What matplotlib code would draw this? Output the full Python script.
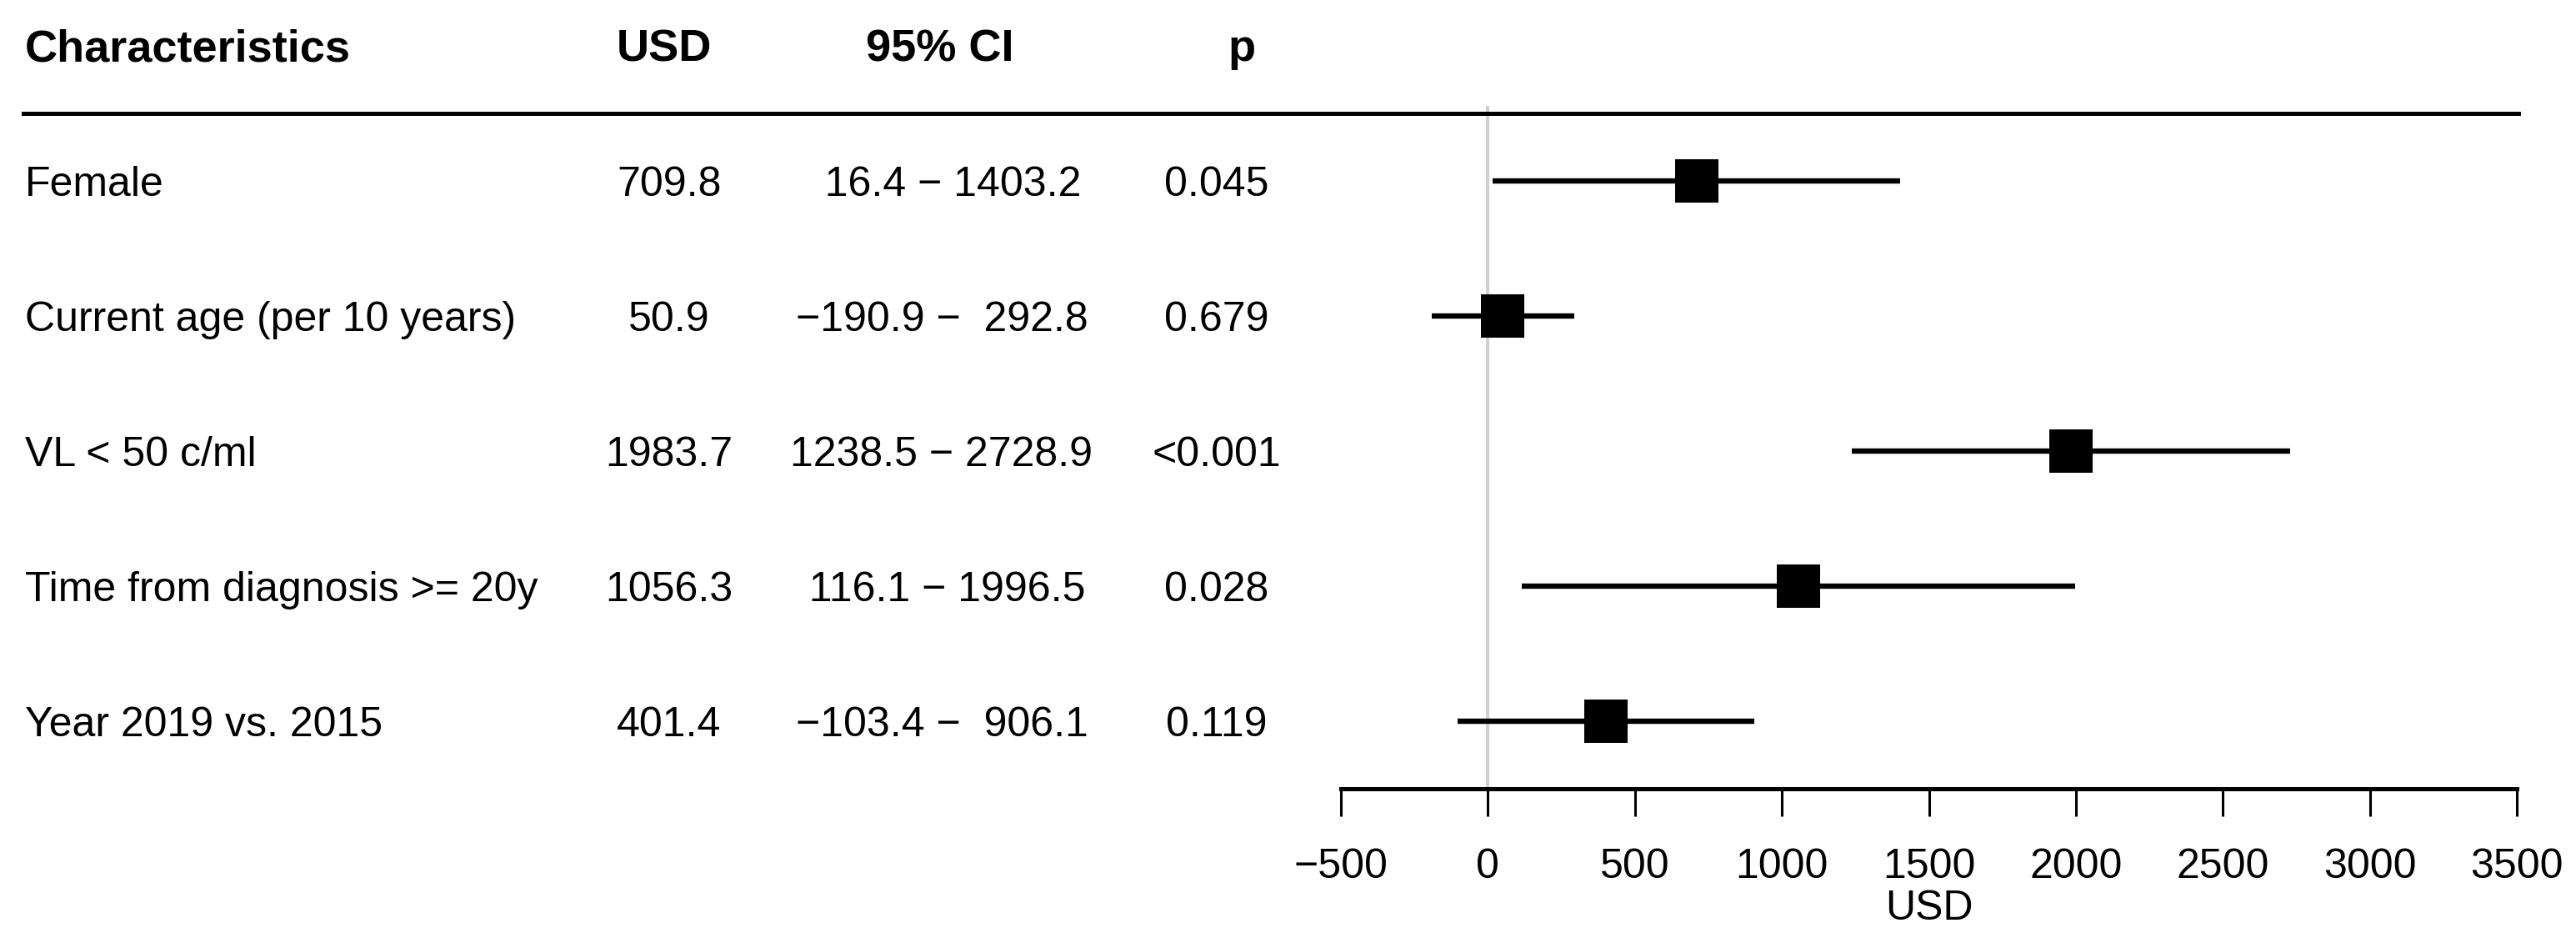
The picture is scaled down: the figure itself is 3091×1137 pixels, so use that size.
import matplotlib.pyplot as plt
import matplotlib.transforms as mtransforms
import numpy as np

plt.rcParams['font.family'] = ['Liberation Sans', 'DejaVu Sans']

# data
characteristics = ["Female", "Current age (per 10 years)", "VL < 50 c/ml",
                   "Time from diagnosis >= 20y", "Year 2019 vs. 2015"]
usd = [709.8, 50.9, 1983.7, 1056.3, 401.4]
ci_low = [16.4, -190.9, 1238.5, 116.1, -103.4]
ci_high = [1403.2, 292.8, 2728.9, 1996.5, 906.1]
p_values = ["0.045", "0.679", "<0.001", "0.028", "0.119"]
headers = ["Characteristics", "USD", "95% CI", "p"]
xticks = [-500, 0, 500, 1000, 1500, 2000, 2500, 3000, 3500]

W, H = 3091, 1137
fig = plt.figure(figsize=(W / 100, H / 100), dpi=100)

left, right = 1609, 3020
top, bottom = 127, 946
ax = fig.add_axes([left / W, 1 - bottom / H, (right - left) / W, (bottom - top) / H])
rows = np.arange(len(characteristics))
row0, step = 217, 162
ax.set_ylim((bottom - row0) / step, (top - row0) / step)
ax.set_xlim(-500, 3500)

ax.axvline(0, color="#d0d0d0", lw=2.9, zorder=1)
ax.hlines(rows, ci_low, ci_high, color="black", lw=4.6, zorder=2)
ax.scatter(usd, rows, marker="s", s=38 ** 2, color="black", linewidths=0, zorder=3)

for s in ["left", "right", "top"]:
    ax.spines[s].set_visible(False)
ax.spines["bottom"].set_linewidth(3.6)
ax.set_yticks([])
ax.set_xticks(xticks)
ax.set_xticklabels([("\u2212" + str(-t)) if t < 0 else str(t) for t in xticks])
ax.tick_params(axis="x", direction="out", length=24, width=2.2, pad=27, labelsize=36)
ax.set_xlabel("USD", fontsize=36, labelpad=3)

# table columns
tr = mtransforms.blended_transform_factory(fig.transFigure, ax.transData)
col_char, col_usd, col_ci, col_p = 30 / W, 803 / W, 1130 / W, 1460 / W

hy = 1 - 59 / H
fig.text(col_char, hy, headers[0], ha="left", va="center", fontsize=39, fontweight="bold")
fig.text(797 / W, hy, headers[1], ha="center", va="center", fontsize=39, fontweight="bold")
fig.text(1128 / W, hy, headers[2], ha="center", va="center", fontsize=39, fontweight="bold")
fig.text(1490 / W, hy, headers[3], ha="center", va="center", fontsize=39, fontweight="bold")

# top rule
fig.add_artist(plt.Line2D([28 / W, 3022 / W], [1 - 136 / H, 1 - 136 / H],
                          color="black", lw=3.6, transform=fig.transFigure))


def fmt(v):
    s = f"{abs(v):.1f}"
    if v < 0:
        s = "\u2212" + s
    return s.rjust(6)


for i in rows:
    fig.text(col_char, i, characteristics[i], ha="left", va="center_baseline",
             fontsize=36, transform=tr)
    fig.text(col_usd, i, f"{usd[i]:.1f}", ha="center", va="center_baseline",
             fontsize=36, transform=tr)
    ci = fmt(ci_low[i]) + " \u2212 " + fmt(ci_high[i])
    fig.text(col_ci, i, ci, ha="center", va="center_baseline", fontsize=36, transform=tr)
    fig.text(col_p, i, p_values[i], ha="center", va="center_baseline", fontsize=36, transform=tr)

fig.savefig("out.png", dpi=100, facecolor="white")
